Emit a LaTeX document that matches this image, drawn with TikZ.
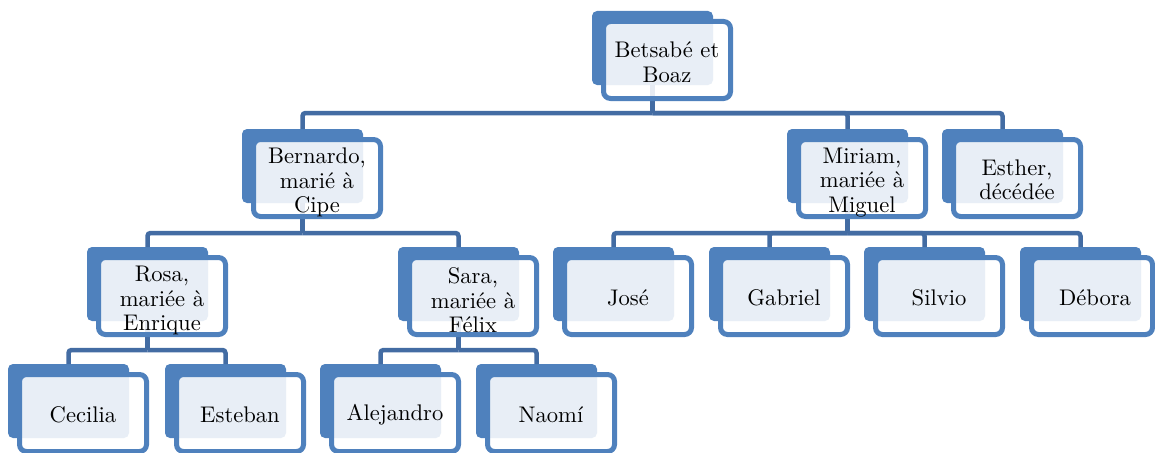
\documentclass[tikz,border=0pt]{standalone}
\usepackage{fontspec}
\newfontfamily\lmten{lmroman10-regular.otf}
\definecolor{boxblue}{HTML}{4F81BD}
\definecolor{connblue}{HTML}{436CA3}
\tikzset{
  backbox/.style={fill=boxblue, rounded corners=5pt, minimum width=121pt, minimum height=74pt, inner sep=0pt, outer sep=0pt},
  frontbox/.style={draw=boxblue, line width=5pt, fill=white, fill opacity=0.87, draw opacity=1, rounded corners=7pt, minimum width=127pt, minimum height=77pt, inner sep=0pt, outer sep=0pt},
  txt/.style={font=\lmten\fontsize{22.6}{24.5}\selectfont, align=center, inner sep=0pt, text=black},
  conn/.style={draw=connblue, line width=4.5pt, rounded corners=3pt}
}
\newcommand\bk[3]{\node[backbox] (#1) at ({#2+60.5},{#3+37}) {};}
\newcommand\fr[6][]{\node[frontbox,#1] (#2-f) at ({#3+75},{#4+49}) {};
  \node[txt] (#2-t) at ({#3+75},{#4+#6}) {#5};}
\begin{document}
\begin{tikzpicture}[x=1pt,y=-1pt]
\path[use as bounding box] (0,0) rectangle (1155,452);
\clip (0,0) rectangle (1155,452);
% back boxes
\bk{root}{592}{11}
\bk{bern}{242}{129}
\bk{miri}{787}{129}
\bk{esth}{942}{129}
\bk{rosa}{87}{247}
\bk{sara}{398}{247}
\bk{jose}{553}{247}
\bk{gabr}{709}{247}
\bk{silv}{864}{247}
\bk{debo}{1020}{247}
\bk{ceci}{8}{364}
\bk{este}{165}{364}
\bk{alej}{320}{364}
\bk{naom}{476}{364}
% connectors
\coordinate (b0) at (0,113);
\coordinate (b1) at (0,233);
\coordinate (b2) at (0,350);
\draw[conn] (root.south) -- (root.south |- b0);
\foreach \c in {bern,miri,esth} \draw[conn] (root.south |- b0) -| (\c.north);
\draw[conn] (bern.south) -- (bern.south |- b1);
\foreach \c in {rosa,sara} \draw[conn] (bern.south |- b1) -| (\c.north);
\draw[conn] (miri.south) -- (miri.south |- b1);
\foreach \c in {jose,gabr,silv,debo} \draw[conn] (miri.south |- b1) -| (\c.north);
\draw[conn] (rosa.south) -- (rosa.south |- b2);
\foreach \c in {ceci,este} \draw[conn] (rosa.south |- b2) -| (\c.north);
\draw[conn] (sara.south) -- (sara.south |- b2);
\foreach \c in {alej,naom} \draw[conn] (sara.south |- b2) -| (\c.north);
% front boxes and texts
\fr{root}{592}{11}{Betsabé et\\Boaz}{51}
\fr{bern}{242}{129}{Bernardo,\\marié à\\Cipe}{53.5}
\fr{miri}{787}{129}{Miriam,\\mariée à\\Miguel}{53.5}
\fr{esth}{942}{129}{Esther,\\décédée}{51}
\fr{rosa}{87}{247}{Rosa,\\mariée à\\Enrique}{53.5}
\fr{sara}{398}{247}{Sara,\\mariée à\\Félix}{53.5}
\fr{jose}{553}{247}{José}{51}
\fr{gabr}{709}{247}{Gabriel}{51}
\fr{silv}{864}{247}{Silvio}{51}
\node[frontbox, minimum width=121pt] (debo-f) at (1092,296) {};
\node[txt] (debo-t) at (1095,298) {Débora};
\fr{ceci}{8}{364}{Cecilia}{51}
\fr{este}{165}{364}{Esteban}{51}
\fr{alej}{320}{364}{Alejandro}{51}
\fr{naom}{476}{364}{Naomí}{51}
\end{tikzpicture}
\end{document}
